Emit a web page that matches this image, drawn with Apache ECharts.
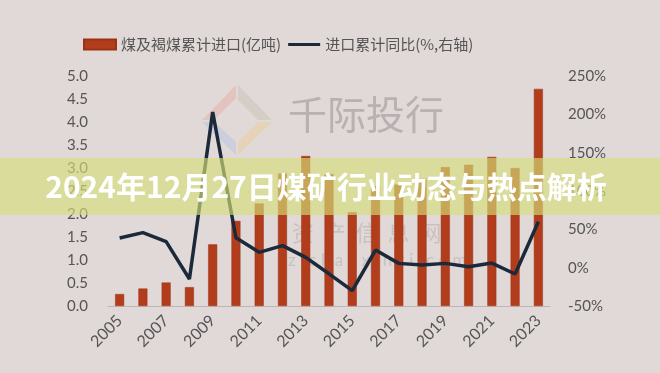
<!DOCTYPE html>
<html>
<head>
<meta charset="utf-8">
<script src="https://cdn.jsdelivr.net/npm/echarts@6/dist/echarts.min.js"></script>
<style>
html,body{margin:0;padding:0;background:#e1d8d8;}
#chart{width:660px;height:373px;}
</style>
</head>
<body>
<div id="chart"></div>
<script>
var years = ['2005','2006','2007','2008','2009','2010','2011','2012','2013','2014','2015','2016','2017','2018','2019','2020','2021','2022','2023'];
var imports = [0.26, 0.38, 0.51, 0.41, 1.34, 1.85, 2.23, 2.88, 3.26, 2.87, 2.04, 2.61, 2.64, 2.76, 3.02, 3.07, 3.24, 3.0, 4.72];
var growth = [38.7, 45.7, 34, -14.8, 203, 39, 20, 28.7, 13.4, -8, -30, 23, 5.6, 3.5, 5.6, 1.3, 6, -8.3, 60];
var leftTicks = { min: 0, max: 5, interval: 0.5 };
var rightTicks = { min: -50, max: 250, interval: 50 };
var seriesNames = ['煤及褐煤累计进口(亿吨)', '进口累计同比(%,右轴)'];
var titleText = '2024年12月27日煤矿行业动态与热点解析';

var chart = echarts.init(document.getElementById('chart'));
var labelFont = 'Lato, "Noto Sans", sans-serif';
chart.setOption({
  backgroundColor: '#e1d8d8',
  animation: false,
  legend: {
    left: 78, top: 32,
    itemWidth: 32, itemHeight: 10, itemGap: 7,
    textStyle: { fontSize: 15, color: '#555', fontFamily: '"Noto Sans CJK SC", sans-serif' },
    data: [
      { name: seriesNames[0], icon: 'rect' },
      { name: seriesNames[1], icon: 'path://M0,0 L0,0 M0,3.4 L32,3.4 L32,6.6 L0,6.6 Z M32,10 L32,10' }
    ]
  },
  grid: { left: 108, right: 110, top: 76, bottom: 67, containLabel: false },
  xAxis: {
    type: 'category', data: years, boundaryGap: true,
    axisLine: { lineStyle: { color: '#bdb6b6', width: 1 } },
    axisTick: { interval: 1, length: 5, lineStyle: { color: '#bdb6b6' } },
    axisLabel: { interval: 1, rotate: 45, fontSize: 16, color: '#555', fontFamily: labelFont, margin: 12 }
  },
  yAxis: [{
    type: 'value', min: leftTicks.min, max: leftTicks.max, interval: leftTicks.interval,
    axisLine: { show: false }, axisTick: { show: false }, splitLine: { show: false },
    axisLabel: { fontSize: 15, color: '#555', fontFamily: labelFont, margin: 20,
      formatter: function (v) { return v.toFixed(1); } }
  }, {
    type: 'value', min: rightTicks.min, max: rightTicks.max, interval: rightTicks.interval,
    axisLine: { show: false }, axisTick: { show: false }, splitLine: { show: false },
    axisLabel: { fontSize: 15, color: '#555', fontFamily: labelFont, margin: 18, formatter: '{value}%' }
  }],
  series: [{
    name: seriesNames[0], type: 'bar', data: imports, barWidth: 9, yAxisIndex: 0, z: 2,
    itemStyle: { color: '#b23d1c', borderColor: '#9c3214', borderWidth: 0.5 }
  }, {
    name: seriesNames[1], type: 'line', data: growth, yAxisIndex: 1, symbol: 'none', z: 3,
    lineStyle: { color: '#1b2a3a', width: 3.5 }, itemStyle: { color: '#1b2a3a' }
  }],
  graphic: [
    { type: 'polygon', z: 0, shape: { points: [[236,85],[202,120],[214,120],[236,98]] }, style: { fill: 'rgba(230,170,160,0.45)' } },
    { type: 'polygon', z: 0, shape: { points: [[238,85],[272,120],[258,120],[238,100]] }, style: { fill: 'rgba(200,195,180,0.5)' } },
    { type: 'polygon', z: 0, shape: { points: [[202,122],[236,155],[236,142],[214,122]] }, style: { fill: 'rgba(180,195,225,0.5)' } },
    { type: 'polygon', z: 0, shape: { points: [[272,122],[238,155],[238,142],[258,122]] }, style: { fill: 'rgba(235,205,150,0.5)' } },
    { type: 'text', z: 0, left: 288, top: 95, style: { text: '千际投行', fontSize: 39, fill: 'rgba(150,145,145,0.55)', fontFamily: '"Noto Sans CJK SC", sans-serif' } },
    { type: 'text', z: 0, left: 292, top: 222, style: { text: '资  产  信  息  网', fontSize: 22, fill: 'rgba(160,150,150,0.35)', fontFamily: '"Noto Sans CJK SC", sans-serif' } },
    { type: 'text', z: 0, left: 288, top: 252, style: { text: 'z i c h a n x i n x i . c o m', fontSize: 17, fill: 'rgba(160,150,150,0.35)', fontFamily: labelFont } },
    { type: 'rect', z: 100, shape: { x: 0, y: 158, width: 660, height: 57 }, style: { fill: 'rgba(212,223,122,0.65)' } },
    { type: 'text', z: 101, x: 326, y: 187, style: { text: titleText, fontSize: 30, fontWeight: 'bold', fill: '#ffffff', align: 'center', verticalAlign: 'middle', fontFamily: '"Noto Sans CJK SC", sans-serif' } }
  ]
});
</script>
</body>
</html>
